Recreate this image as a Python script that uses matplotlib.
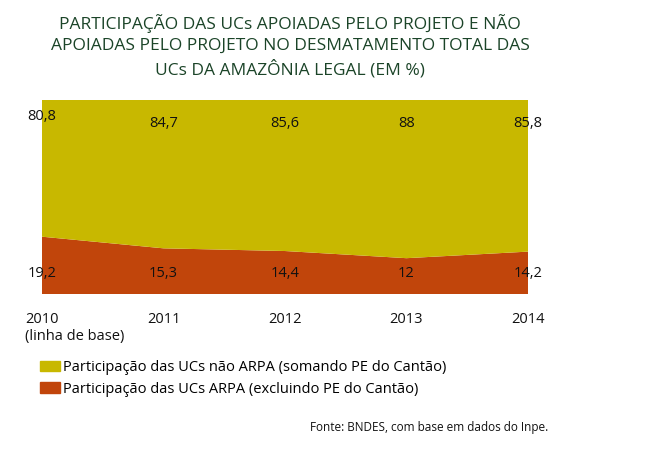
import matplotlib
matplotlib.use("Agg")
from matplotlib import pyplot as plt
from matplotlib.patches import Patch
import matplotlib.transforms as mtransforms

anos = [2010, 2011, 2012, 2013, 2014]
rotulos_anos = ["2010\n(linha de base)", "2011", "2012", "2013", "2014"]
arpa = [19.2, 15.3, 14.4, 12, 14.2]
nao_arpa = [80.8, 84.7, 85.6, 88, 85.8]

amarelo = "#C8B800"
laranja = "#C1450B"
verde = "#1B4428"

plt.rcParams['font.family'] = ['Open Sans', 'DejaVu Sans']

fig = plt.figure(figsize=(6.64, 4.59), dpi=100)
ax = fig.add_axes([42/664, 1-294/459, (528-42)/664, 194/459])

ax.stackplot(anos, arpa, nao_arpa, colors=[laranja, amarelo], linewidth=0)
ax.set_xlim(anos[0], anos[-1])
ax.set_ylim(0, 65)

for s in ax.spines.values():
    s.set_visible(False)
ax.set_yticks([])
ax.set_xticks(anos)
ax.set_xticklabels(rotulos_anos, fontsize=10.5, color="#111111", va="top")
ax.tick_params(axis="x", length=0, pad=13)
lab0 = ax.get_xticklabels()[0]
lab0.set_horizontalalignment("left")
lab0.set_transform(lab0.get_transform() + mtransforms.ScaledTranslation(-17/100, 0, fig.dpi_scale_trans))

# rotulos de valores
for i, (a, v) in enumerate(zip(anos, nao_arpa)):
    txt = str(v).replace(".", ",")
    y = 59.6 if i == 0 else 57.0
    ax.text(a, y, txt, ha="center", va="center", fontsize=10.5, color="#111111")
for i, (a, v) in enumerate(zip(anos, arpa)):
    txt = str(v).replace(".", ",")
    ax.text(a, 6.8, txt, ha="center", va="center", fontsize=10.5, color="#111111")

fig.text(290/664, 1-14/459, "PARTICIPAÇÃO DAS UCs APOIADAS PELO PROJETO E NÃO\n"
         "APOIADAS PELO PROJETO NO DESMATAMENTO TOTAL DAS\n"
         "UCs DA AMAZÔNIA LEGAL (EM %)", ha="center", va="top",
         fontsize=12.5, color=verde, linespacing=1.4)

handles = [Patch(color=amarelo, label="Participação das UCs não ARPA (somando PE do Cantão)"),
           Patch(color=laranja, label="Participação das UCs ARPA (excluindo PE do Cantão)")]
fig.legend(handles=handles, loc="upper left", bbox_to_anchor=(40/664, 1-360/459),
           frameon=False, fontsize=10.5, handlelength=1.4, handleheight=0.7,
           handletextpad=0.2, labelspacing=0.45, borderpad=0, borderaxespad=0)

fig.text(548/664, 1-428/459, "Fonte: BNDES, com base em dados do Inpe.", ha="right",
         va="center", fontsize=8.5, color="#111111")

fig.savefig("out.png", dpi=100)
